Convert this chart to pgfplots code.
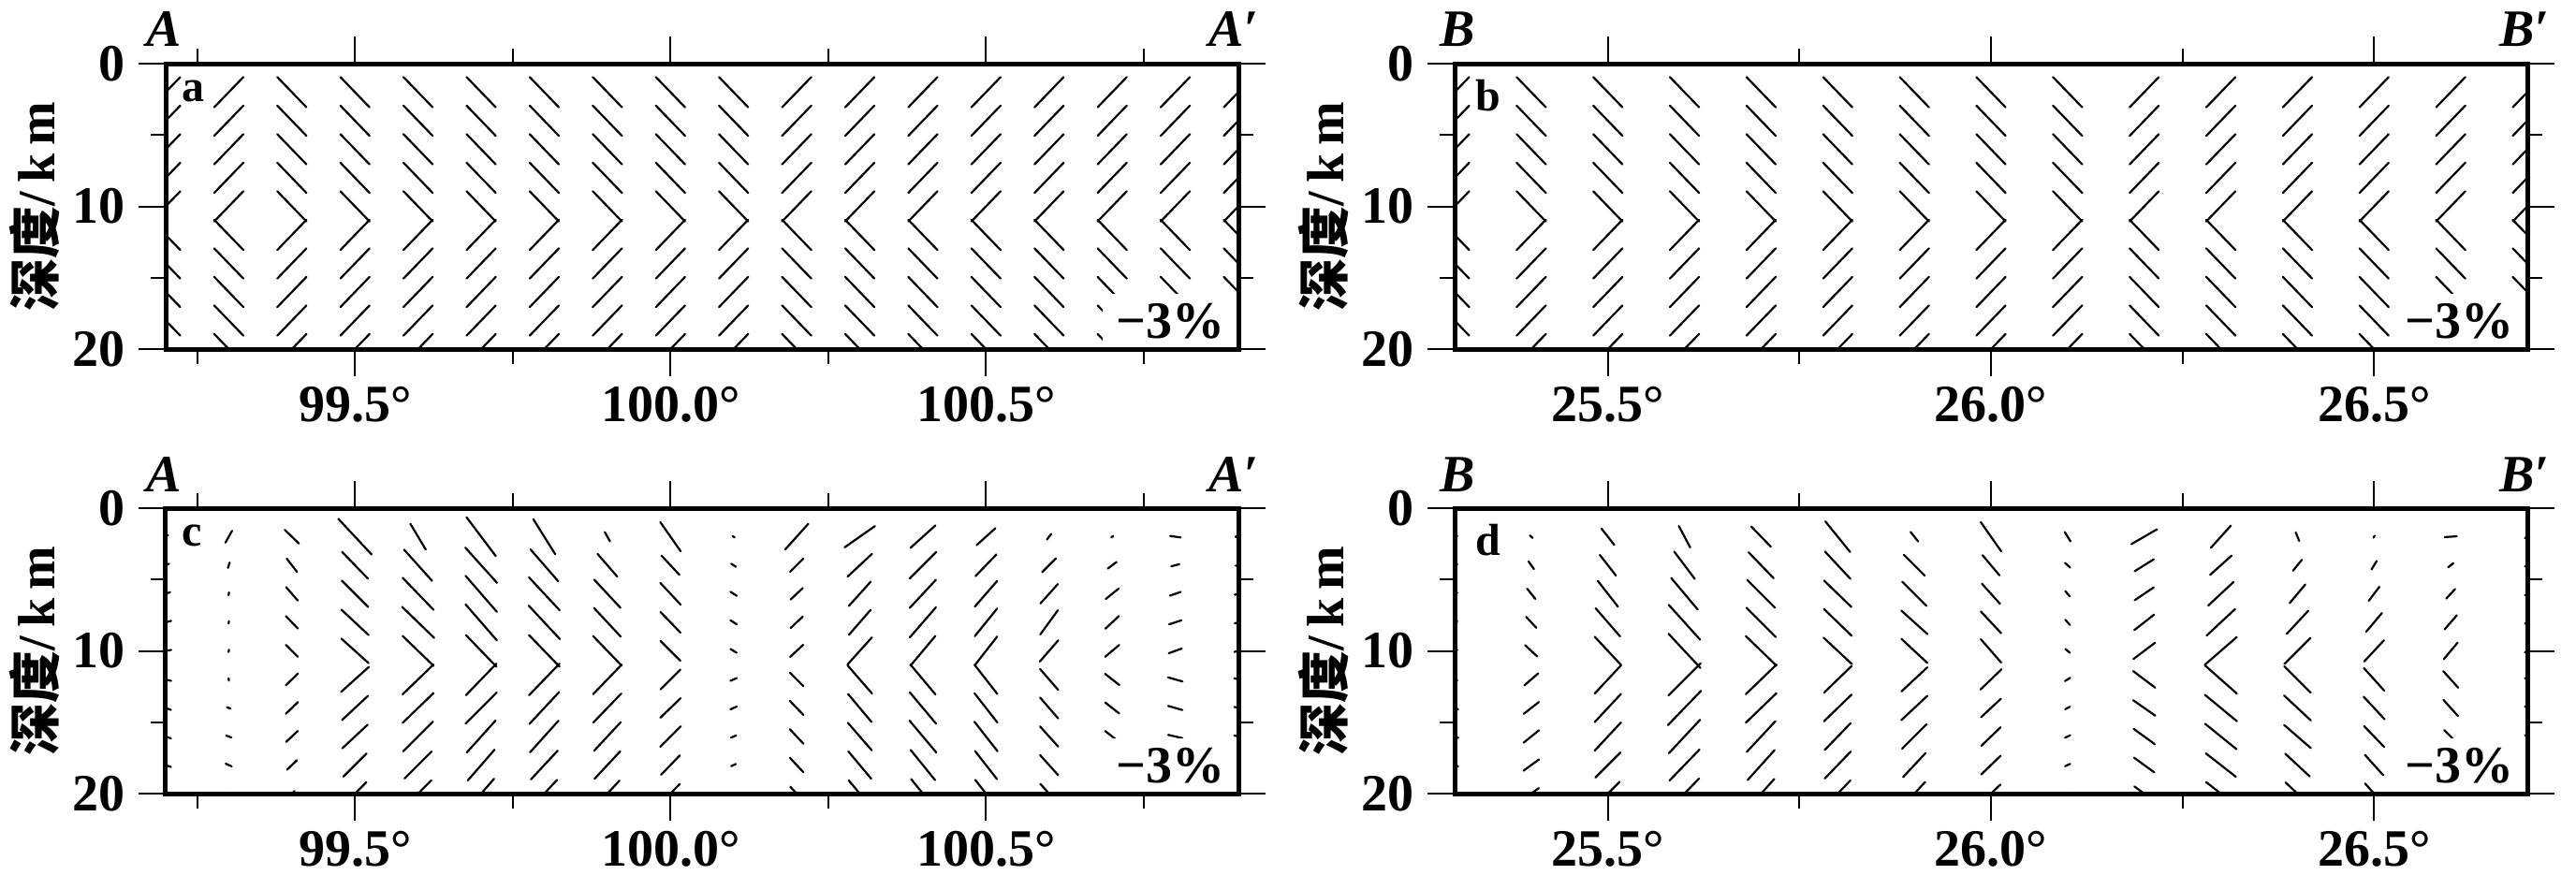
\documentclass[border=0pt]{standalone}
\usepackage{fontspec}
\setmainfont{Liberation Serif}
\newfontfamily\cjk{Noto Sans CJK SC}
\usepackage{pgfplots}
\usepackage{pgfplotstable}
\pgfplotsset{compat=1.18}

% x = position (deg), d = depth (km), a = screen angle (deg), l = length (px of the 2752 px figure)
\pgfplotstableread[row sep=\\]{
x d a l\\
99.2 2 46 45\\ 99.2 4 46 45\\ 99.2 6 46 45\\ 99.2 8 46 45\\ 99.2 10 46 45\\ 99.2 12 -46 45\\ 99.2 14 -46 45\\ 99.2 16 -46 45\\ 99.2 18 -46 45\\ 99.2 20 -46 45\\
99.3 2 46 45\\ 99.3 4 46 45\\ 99.3 6 46 45\\ 99.3 8 46 45\\ 99.3 10 46 45\\ 99.3 12 -46 45\\ 99.3 14 -46 45\\ 99.3 16 -46 45\\ 99.3 18 -46 45\\ 99.3 20 -46 45\\
99.4 2 -46 45\\ 99.4 4 -46 45\\ 99.4 6 -46 45\\ 99.4 8 -46 45\\ 99.4 10 -46 45\\ 99.4 12 46 45\\ 99.4 14 46 45\\ 99.4 16 46 45\\ 99.4 18 46 45\\ 99.4 20 46 45\\
99.5 2 -46 45\\ 99.5 4 -46 45\\ 99.5 6 -46 45\\ 99.5 8 -46 45\\ 99.5 10 -46 45\\ 99.5 12 46 45\\ 99.5 14 46 45\\ 99.5 16 46 45\\ 99.5 18 46 45\\ 99.5 20 46 45\\
99.6 2 -46 45\\ 99.6 4 -46 45\\ 99.6 6 -46 45\\ 99.6 8 -46 45\\ 99.6 10 -46 45\\ 99.6 12 46 45\\ 99.6 14 46 45\\ 99.6 16 46 45\\ 99.6 18 46 45\\ 99.6 20 46 45\\
99.7 2 -46 45\\ 99.7 4 -46 45\\ 99.7 6 -46 45\\ 99.7 8 -46 45\\ 99.7 10 -46 45\\ 99.7 12 46 45\\ 99.7 14 46 45\\ 99.7 16 46 45\\ 99.7 18 46 45\\ 99.7 20 46 45\\
99.8 2 -46 45\\ 99.8 4 -46 45\\ 99.8 6 -46 45\\ 99.8 8 -46 45\\ 99.8 10 -46 45\\ 99.8 12 46 45\\ 99.8 14 46 45\\ 99.8 16 46 45\\ 99.8 18 46 45\\ 99.8 20 46 45\\
99.9 2 -46 45\\ 99.9 4 -46 45\\ 99.9 6 -46 45\\ 99.9 8 -46 45\\ 99.9 10 -46 45\\ 99.9 12 46 45\\ 99.9 14 46 45\\ 99.9 16 46 45\\ 99.9 18 46 45\\ 99.9 20 46 45\\
100.0 2 -46 45\\ 100.0 4 -46 45\\ 100.0 6 -46 45\\ 100.0 8 -46 45\\ 100.0 10 -46 45\\ 100.0 12 46 45\\ 100.0 14 46 45\\ 100.0 16 46 45\\ 100.0 18 46 45\\ 100.0 20 46 45\\
100.1 2 -46 45\\ 100.1 4 -46 45\\ 100.1 6 -46 45\\ 100.1 8 -46 45\\ 100.1 10 -46 45\\ 100.1 12 46 45\\ 100.1 14 46 45\\ 100.1 16 46 45\\ 100.1 18 46 45\\ 100.1 20 46 45\\
100.2 2 46 45\\ 100.2 4 46 45\\ 100.2 6 46 45\\ 100.2 8 46 45\\ 100.2 10 46 45\\ 100.2 12 -46 45\\ 100.2 14 -46 45\\ 100.2 16 -46 45\\ 100.2 18 -46 45\\ 100.2 20 -46 45\\
100.3 2 46 45\\ 100.3 4 46 45\\ 100.3 6 46 45\\ 100.3 8 46 45\\ 100.3 10 46 45\\ 100.3 12 -46 45\\ 100.3 14 -46 45\\ 100.3 16 -46 45\\ 100.3 18 -46 45\\ 100.3 20 -46 45\\
100.4 2 46 45\\ 100.4 4 46 45\\ 100.4 6 46 45\\ 100.4 8 46 45\\ 100.4 10 46 45\\ 100.4 12 -46 45\\ 100.4 14 -46 45\\ 100.4 16 -46 45\\ 100.4 18 -46 45\\ 100.4 20 -46 45\\
100.5 2 46 45\\ 100.5 4 46 45\\ 100.5 6 46 45\\ 100.5 8 46 45\\ 100.5 10 46 45\\ 100.5 12 -46 45\\ 100.5 14 -46 45\\ 100.5 16 -46 45\\ 100.5 18 -46 45\\ 100.5 20 -46 45\\
100.6 2 46 45\\ 100.6 4 46 45\\ 100.6 6 46 45\\ 100.6 8 46 45\\ 100.6 10 46 45\\ 100.6 12 -46 45\\ 100.6 14 -46 45\\ 100.6 16 -46 45\\ 100.6 18 -46 45\\ 100.6 20 -46 45\\
100.7 2 46 45\\ 100.7 4 46 45\\ 100.7 6 46 45\\ 100.7 8 46 45\\ 100.7 10 46 45\\ 100.7 12 -46 45\\ 100.7 14 -46 45\\ 100.7 16 -46 45\\ 100.7 18 -46 45\\ 100.7 20 -46 45\\
100.8 2 46 45\\ 100.8 4 46 45\\ 100.8 6 46 45\\ 100.8 8 46 45\\ 100.8 10 46 45\\ 100.8 12 -46 45\\ 100.8 14 -46 45\\ 100.8 16 -46 45\\ 100.8 18 -46 45\\ 100.8 20 -46 45\\
100.9 2 46 45\\ 100.9 4 46 45\\ 100.9 6 46 45\\ 100.9 8 46 45\\ 100.9 10 46 45\\ 100.9 12 -46 45\\ 100.9 14 -46 45\\ 100.9 16 -46 45\\ 100.9 18 -46 45\\ 100.9 20 -46 45\\
}\tabA

\pgfplotstableread[row sep=\\]{
x d a l\\
25.3 2 46 45\\ 25.3 4 46 45\\ 25.3 6 46 45\\ 25.3 8 46 45\\ 25.3 10 46 45\\ 25.3 12 -46 45\\ 25.3 14 -46 45\\ 25.3 16 -46 45\\ 25.3 18 -46 45\\ 25.3 20 -46 45\\
25.4 2 -46 45\\ 25.4 4 -46 45\\ 25.4 6 -46 45\\ 25.4 8 -46 45\\ 25.4 10 -46 45\\ 25.4 12 46 45\\ 25.4 14 46 45\\ 25.4 16 46 45\\ 25.4 18 46 45\\ 25.4 20 46 45\\
25.5 2 -46 45\\ 25.5 4 -46 45\\ 25.5 6 -46 45\\ 25.5 8 -46 45\\ 25.5 10 -46 45\\ 25.5 12 46 45\\ 25.5 14 46 45\\ 25.5 16 46 45\\ 25.5 18 46 45\\ 25.5 20 46 45\\
25.6 2 -46 45\\ 25.6 4 -46 45\\ 25.6 6 -46 45\\ 25.6 8 -46 45\\ 25.6 10 -46 45\\ 25.6 12 46 45\\ 25.6 14 46 45\\ 25.6 16 46 45\\ 25.6 18 46 45\\ 25.6 20 46 45\\
25.7 2 -46 45\\ 25.7 4 -46 45\\ 25.7 6 -46 45\\ 25.7 8 -46 45\\ 25.7 10 -46 45\\ 25.7 12 46 45\\ 25.7 14 46 45\\ 25.7 16 46 45\\ 25.7 18 46 45\\ 25.7 20 46 45\\
25.8 2 -46 45\\ 25.8 4 -46 45\\ 25.8 6 -46 45\\ 25.8 8 -46 45\\ 25.8 10 -46 45\\ 25.8 12 46 45\\ 25.8 14 46 45\\ 25.8 16 46 45\\ 25.8 18 46 45\\ 25.8 20 46 45\\
25.9 2 -46 45\\ 25.9 4 -46 45\\ 25.9 6 -46 45\\ 25.9 8 -46 45\\ 25.9 10 -46 45\\ 25.9 12 46 45\\ 25.9 14 46 45\\ 25.9 16 46 45\\ 25.9 18 46 45\\ 25.9 20 46 45\\
26.0 2 -46 45\\ 26.0 4 -46 45\\ 26.0 6 -46 45\\ 26.0 8 -46 45\\ 26.0 10 -46 45\\ 26.0 12 46 45\\ 26.0 14 46 45\\ 26.0 16 46 45\\ 26.0 18 46 45\\ 26.0 20 46 45\\
26.1 2 -46 45\\ 26.1 4 -46 45\\ 26.1 6 -46 45\\ 26.1 8 -46 45\\ 26.1 10 -46 45\\ 26.1 12 46 45\\ 26.1 14 46 45\\ 26.1 16 46 45\\ 26.1 18 46 45\\ 26.1 20 46 45\\
26.2 2 46 45\\ 26.2 4 46 45\\ 26.2 6 46 45\\ 26.2 8 46 45\\ 26.2 10 46 45\\ 26.2 12 -46 45\\ 26.2 14 -46 45\\ 26.2 16 -46 45\\ 26.2 18 -46 45\\ 26.2 20 -46 45\\
26.3 2 46 45\\ 26.3 4 46 45\\ 26.3 6 46 45\\ 26.3 8 46 45\\ 26.3 10 46 45\\ 26.3 12 -46 45\\ 26.3 14 -46 45\\ 26.3 16 -46 45\\ 26.3 18 -46 45\\ 26.3 20 -46 45\\
26.4 2 46 45\\ 26.4 4 46 45\\ 26.4 6 46 45\\ 26.4 8 46 45\\ 26.4 10 46 45\\ 26.4 12 -46 45\\ 26.4 14 -46 45\\ 26.4 16 -46 45\\ 26.4 18 -46 45\\ 26.4 20 -46 45\\
26.5 2 46 45\\ 26.5 4 46 45\\ 26.5 6 46 45\\ 26.5 8 46 45\\ 26.5 10 46 45\\ 26.5 12 -46 45\\ 26.5 14 -46 45\\ 26.5 16 -46 45\\ 26.5 18 -46 45\\ 26.5 20 -46 45\\
26.6 2 46 45\\ 26.6 4 46 45\\ 26.6 6 46 45\\ 26.6 8 46 45\\ 26.6 10 46 45\\ 26.6 12 -46 45\\ 26.6 14 -46 45\\ 26.6 16 -46 45\\ 26.6 18 -46 45\\ 26.6 20 -46 45\\
26.7 2 46 45\\ 26.7 4 46 45\\ 26.7 6 46 45\\ 26.7 8 46 45\\ 26.7 10 46 45\\ 26.7 12 -46 45\\ 26.7 14 -46 45\\ 26.7 16 -46 45\\ 26.7 18 -46 45\\ 26.7 20 -46 45\\
}\tabB

\pgfplotstableread[row sep=\\]{
x d a l\\
99.2 2 30 6\\ 99.2 4 25 8\\ 99.2 6 20 10\\ 99.2 8 15 12\\ 99.2 10 10 12\\ 99.2 12 -15 12\\ 99.2 14 -20 12\\ 99.2 16 -20 12\\ 99.2 18 -20 12\\ 99.2 20 -20 10\\
99.3 2 61 14.5\\ 99.3 4 72 6\\ 99.3 6 80 3\\ 99.3 8 80 2.5\\ 99.3 10 80 2.5\\ 99.3 12 -80 2.5\\ 99.3 14 -20 4\\ 99.3 16 -20 6\\ 99.3 18 -25 7\\ 99.3 20 -25 6\\
99.4 2 -44 21\\ 99.4 4 -52 18\\ 99.4 6 -49 19\\ 99.4 8 -46 18.6\\ 99.4 10 -45 18\\ 99.4 12 44 18\\ 99.4 14 44 18\\ 99.4 16 43 17\\ 99.4 18 44 14.4\\ 99.4 20 44 8\\
99.5 2 -47 52\\ 99.5 4 -46 40\\ 99.5 6 -45 40\\ 99.5 8 -43 40\\ 99.5 10 -42 39\\ 99.5 12 42 40\\ 99.5 14 43 38\\ 99.5 16 43 37\\ 99.5 18 45 35\\ 99.5 20 45 34\\
99.6 2 -59 32\\ 99.6 4 -48 44.6\\ 99.6 6 -46 47.7\\ 99.6 8 -44 47.5\\ 99.6 10 -44 46\\ 99.6 12 44 46\\ 99.6 14 44 46\\ 99.6 16 45 45\\ 99.6 18 45 40.7\\ 99.6 20 45 40\\
99.7 2 -53 52\\ 99.7 4 -48 50.5\\ 99.7 6 -49 51\\ 99.7 8 -49 51\\ 99.7 10 -46 47\\ 99.7 12 46 47\\ 99.7 14 45 47\\ 99.7 16 48 46\\ 99.7 18 49 43.6\\ 99.7 20 49 42\\
99.8 2 -58 44\\ 99.8 4 -49 45\\ 99.8 6 -47 48\\ 99.8 8 -47 49\\ 99.8 10 -46 47\\ 99.8 12 46 47\\ 99.8 14 47 46.6\\ 99.8 16 48 45.5\\ 99.8 18 47 42\\ 99.8 20 47 40\\
99.9 2 -61 11.4\\ 99.9 4 -49 32\\ 99.9 6 -47 41\\ 99.9 8 -47 42\\ 99.9 10 -46 44\\ 99.9 12 46 44\\ 99.9 14 46 43\\ 99.9 16 47 42\\ 99.9 18 47 40\\ 99.9 20 47 38\\
100.0 2 -55 38\\ 100.0 4 -47 28\\ 100.0 6 -47 31.7\\ 100.0 8 -46 30.7\\ 100.0 10 -45 30\\ 100.0 12 45 30\\ 100.0 14 44 30\\ 100.0 16 45 31\\ 100.0 18 46 29\\ 100.0 20 46 28\\
100.1 2 -30 2.5\\ 100.1 4 -32 6\\ 100.1 6 -33 8\\ 100.1 8 -33 8\\ 100.1 10 -31 7.8\\ 100.1 12 24 7.3\\ 100.1 14 24 7.3\\ 100.1 16 23 5.9\\ 100.1 18 25 5.5\\ 100.1 20 25 4\\
100.2 2 48 37\\ 100.2 4 45 20\\ 100.2 6 43 17.7\\ 100.2 8 43 17.7\\ 100.2 10 43 19\\ 100.2 12 -45 20.4\\ 100.2 14 -46 21\\ 100.2 16 -47 21.4\\ 100.2 18 -47 21.4\\ 100.2 20 -47 20\\
100.3 2 35 39.6\\ 100.3 4 43 35.6\\ 100.3 6 48 34.8\\ 100.3 8 49 35.5\\ 100.3 10 48 38.8\\ 100.3 12 -49 40\\ 100.3 14 -50 39\\ 100.3 16 -49 39\\ 100.3 18 -50 38\\ 100.3 20 -50 37\\
100.4 2 42 36\\ 100.4 4 45 40\\ 100.4 6 47 41\\ 100.4 8 49 42.5\\ 100.4 10 50 41.5\\ 100.4 12 -50 41.7\\ 100.4 14 -50 43.8\\ 100.4 16 -50 44.5\\ 100.4 18 -51 41.5\\ 100.4 20 -51 40\\
100.5 2 42 27\\ 100.5 4 46 32\\ 100.5 6 49 36.6\\ 100.5 8 51 38\\ 100.5 10 52 39\\ 100.5 12 -52 39.6\\ 100.5 14 -52 39.8\\ 100.5 16 -52 40\\ 100.5 18 -52 38\\ 100.5 20 -52 37\\
100.6 2 53 7.5\\ 100.6 4 45 21\\ 100.6 6 48 28\\ 100.6 8 54 32\\ 100.6 10 49 30\\ 100.6 12 -49 29.6\\ 100.6 14 -49 29.6\\ 100.6 16 -48 29\\ 100.6 18 -48 29\\ 100.6 20 -48 28\\
100.7 2 40 2.5\\ 100.7 4 37 11.7\\ 100.7 6 39 17.6\\ 100.7 8 43 19.7\\ 100.7 10 40 19.6\\ 100.7 12 -38 19.4\\ 100.7 14 -38 19\\ 100.7 16 -38 19\\ 100.7 18 -39 19.6\\ 100.7 20 -39 19\\
100.8 2 -8 11.3\\ 100.8 4 15 8.9\\ 100.8 6 19 12.2\\ 100.8 8 18 13.8\\ 100.8 10 20 14.7\\ 100.8 12 -16 15.9\\ 100.8 14 -16 15.9\\ 100.8 16 -13 15.7\\ 100.8 18 -13 15\\ 100.8 20 -13 14\\
100.9 2 0 6\\ 100.9 4 10 6\\ 100.9 6 15 8\\ 100.9 8 15 8\\ 100.9 10 15 9\\ 100.9 12 -15 9\\ 100.9 14 -15 9\\ 100.9 16 -15 9\\ 100.9 18 -15 9\\ 100.9 20 -15 9\\
}\tabC

\pgfplotstableread[row sep=\\]{
x d a l\\
25.3 2 20 6\\ 25.3 4 20 6\\ 25.3 6 20 6\\ 25.3 8 20 6\\ 25.3 10 20 6\\ 25.3 12 -20 6\\ 25.3 14 -20 8\\ 25.3 16 -20 8\\ 25.3 18 -20 8\\ 25.3 20 -20 6\\
25.4 2 -42 4\\ 25.4 4 -55 10\\ 25.4 6 -51 14\\ 25.4 8 -47 16\\ 25.4 10 -43 18\\ 25.4 12 41 19.5\\ 25.4 14 38 20.6\\ 25.4 16 39 21\\ 25.4 18 36 20.5\\ 25.4 20 36 20\\
25.5 2 -52 22\\ 25.5 4 -52 28\\ 25.5 6 -52 35\\ 25.5 8 -49 39.7\\ 25.5 10 -47 41\\ 25.5 12 47 41\\ 25.5 14 47 41\\ 25.5 16 47 41\\ 25.5 18 45 37.5\\ 25.5 20 45 36\\
25.6 2 -62 26\\ 25.6 4 -53 36.5\\ 25.6 6 -50 44\\ 25.6 8 -48 50\\ 25.6 10 -47 50\\ 25.6 12 45 48.6\\ 25.6 14 46 50.8\\ 25.6 16 47 48.8\\ 25.6 18 46 46\\ 25.6 20 46 45\\
25.7 2 -46 30\\ 25.7 4 -46 38.4\\ 25.7 6 -45 42\\ 25.7 8 -45 44\\ 25.7 10 -44 45.5\\ 25.7 12 44 45.5\\ 25.7 14 44 45.5\\ 25.7 16 47 45\\ 25.7 18 48 43\\ 25.7 20 48 42\\
25.8 2 -51 42\\ 25.8 4 -47 40\\ 25.8 6 -44 40.5\\ 25.8 8 -44 41\\ 25.8 10 -43 41.5\\ 25.8 12 44 41\\ 25.8 14 44 41\\ 25.8 16 46 40\\ 25.8 18 46 40\\ 25.8 20 46 39\\
25.9 2 -51 13\\ 25.9 4 -45 31.7\\ 25.9 6 -45 36.5\\ 25.9 8 -42 37.4\\ 25.9 10 -43 37.8\\ 25.9 12 43 37.8\\ 25.9 14 43 38\\ 25.9 16 45 37\\ 25.9 18 47 35\\ 25.9 20 47 34\\
26.0 2 -55 38\\ 26.0 4 -50 28\\ 26.0 6 -48 29\\ 26.0 8 -47 31.7\\ 26.0 10 -49 33\\ 26.0 12 44 31\\ 26.0 14 43 29\\ 26.0 16 44 28.7\\ 26.0 18 44 28.7\\ 26.0 20 44 28\\
26.1 2 -58 11.8\\ 26.1 4 -42 7.5\\ 26.1 6 -49 7.5\\ 26.1 8 -48 7.4\\ 26.1 10 -41 6.5\\ 26.1 12 31 6.5\\ 26.1 14 28 5.7\\ 26.1 16 25 6\\ 26.1 18 25 6\\ 26.1 20 25 5\\
26.2 2 30 31.6\\ 26.2 4 32 24\\ 26.2 6 34 24.6\\ 26.2 8 38 27\\ 26.2 10 37 29\\ 26.2 12 -37 29.4\\ 26.2 14 -35 28.8\\ 26.2 16 -36 27.7\\ 26.2 18 -36 26.7\\ 26.2 20 -36 26\\
26.3 2 48 32\\ 26.3 4 42 31\\ 26.3 6 43 36.7\\ 26.3 8 43 41.7\\ 26.3 10 41 45\\ 26.3 12 -41.5 45.5\\ 26.3 14 -39.5 44.5\\ 26.3 16 -39 43\\ 26.3 18 -38 40.6\\ 26.3 20 -38 40\\
26.4 2 -68 10\\ 26.4 4 51 15\\ 26.4 6 50 26\\ 26.4 8 47 34\\ 26.4 10 45 39.4\\ 26.4 12 -45 40\\ 26.4 14 -43 39\\ 26.4 16 -41 37.8\\ 26.4 18 -43 35.7\\ 26.4 20 -43 35\\
26.5 2 60 2.5\\ 26.5 4 58 10.6\\ 26.5 6 53 18.7\\ 26.5 8 50 26\\ 26.5 10 47 30.8\\ 26.5 12 -48 32.5\\ 26.5 14 -47 32.8\\ 26.5 16 -46 31\\ 26.5 18 -48 29.3\\ 26.5 20 -48 29\\
26.6 2 4 13\\ 26.6 4 38 7\\ 26.6 6 47 13.7\\ 26.6 8 49 20\\ 26.6 10 50 23\\ 26.6 12 -48 23.6\\ 26.6 14 -48 23.4\\ 26.6 16 -45 19.7\\ 26.6 18 -45 18\\ 26.6 20 -45 17\\
26.7 2 30 6\\ 26.7 4 30 6\\ 26.7 6 30 6\\ 26.7 8 30 6\\ 26.7 10 30 6\\ 26.7 12 -30 6\\ 26.7 14 -30 6\\ 26.7 16 -30 6\\ 26.7 18 -30 6\\ 26.7 20 -30 6\\
}\tabD

% #1 table, #2 pixels per degree along x (15.25 pixels per km along depth)
\newcommand\segplot[2]{%
  \addplot[black, line width=0.55pt, line cap=round, no markers,
    quiver={u={cos(\thisrow{a})*\thisrow{l}/#2},
            v={-sin(\thisrow{a})*\thisrow{l}/15.25},
            every arrow/.append style={-}}]
    table[x expr={\thisrow{x}-0.5*cos(\thisrow{a})*\thisrow{l}/#2},
          y expr={\thisrow{d}+0.5*sin(\thisrow{a})*\thisrow{l}/15.25}] {#1};}

\newcommand\lblfont{\fontsize{14}{15}\selectfont\bfseries}

\pgfplotsset{
  pan/.style={scale only axis, width=286.5pt, height=76.25pt, anchor=north west,
    ymin=0, ymax=20, y dir=reverse, ytick={0,10,20}, yticklabels={0,10,20},
    minor ytick={5,15}, tick align=outside,
    major tick length=7.25pt, minor tick length=4pt,
    axis line style={line width=1.25pt},
    tick style={line width=0.5pt, black},
    tick label style={font=\lblfont},
    xticklabel style={inner sep=1pt, yshift=-1.5pt},
    axis on top,
    every axis y label/.style={at={(axis description cs:-0.122,0.5)}, rotate=90, anchor=center},
    ylabel={{\cjk\bfseries 深度}{\lblfont /\,k\,m}},
    ylabel style={font=\lblfont}},
  panA/.style={pan, xmin=99.2, xmax=100.9, xtick={99.5,100,100.5},
    xticklabels={99.5°,100.0°,100.5°}, minor xtick={99.25,99.75,100.25,100.75}},
  panB/.style={pan, xmin=25.3, xmax=26.7, xtick={25.5,26,26.5},
    xticklabels={25.5°,26.0°,26.5°}, minor xtick={25.75,26.25}}
}

\newcommand\pct{\node[fill=white, anchor=south east, inner xsep=3.5pt, inner ysep=2.5pt, font=\lblfont]
  at (axis description cs:1,0) {−3\%};}

\begin{document}
\begin{tikzpicture}
\useasboundingbox (0,0) rectangle (688pt,233.5pt);

\begin{axis}[panA, name=pa, at={(44.25pt,216.5pt)}]
  \segplot{\tabA}{674.12}
  \node[anchor=base west, font=\fontsize{12}{12}\selectfont\bfseries, inner sep=0pt]
    at (axis description cs:0,1) [xshift=4.25pt, yshift=-10pt] {a};
  \pct
\end{axis}

\begin{axis}[panB, name=pb, at={(388.5pt,216.5pt)}]
  \segplot{\tabB}{818.57}
  \node[anchor=base west, font=\fontsize{12}{12}\selectfont\bfseries, inner sep=0pt]
    at (axis description cs:0,1) [xshift=5.5pt, yshift=-12.5pt] {b};
  \pct
\end{axis}

\begin{axis}[panA, name=pc, at={(44.25pt,97.75pt)}]
  \segplot{\tabC}{674.12}
  \node[anchor=base west, font=\fontsize{12}{12}\selectfont\bfseries, inner sep=0pt]
    at (axis description cs:0,1) [xshift=4.25pt, yshift=-10pt] {c};
  \pct
\end{axis}

\begin{axis}[panB, name=pd, at={(388.5pt,97.75pt)}]
  \segplot{\tabD}{818.57}
  \node[anchor=base west, font=\fontsize{12}{12}\selectfont\bfseries, inner sep=0pt]
    at (axis description cs:0,1) [xshift=5.5pt, yshift=-12.5pt] {d};
  \pct
\end{axis}

\begin{scope}[every node/.style={font=\fontsize{14}{14}\selectfont\bfseries\itshape, inner sep=0pt}]
  \node[anchor=base west] at ([xshift=-5.25pt, yshift=4.5pt]pa.north west) {A};
  \node[anchor=base east] at ([xshift=5.5pt, yshift=4.5pt]pa.north east) {A′};
  \node[anchor=base west] at ([xshift=-4pt, yshift=4.5pt]pb.north west) {B};
  \node[anchor=base east] at ([xshift=6pt, yshift=4.5pt]pb.north east) {B′};
  \node[anchor=base west] at ([xshift=-5.25pt, yshift=4.5pt]pc.north west) {A};
  \node[anchor=base east] at ([xshift=5.5pt, yshift=4.5pt]pc.north east) {A′};
  \node[anchor=base west] at ([xshift=-4pt, yshift=4.5pt]pd.north west) {B};
  \node[anchor=base east] at ([xshift=6pt, yshift=4.5pt]pd.north east) {B′};
\end{scope}
\end{tikzpicture}
\end{document}
